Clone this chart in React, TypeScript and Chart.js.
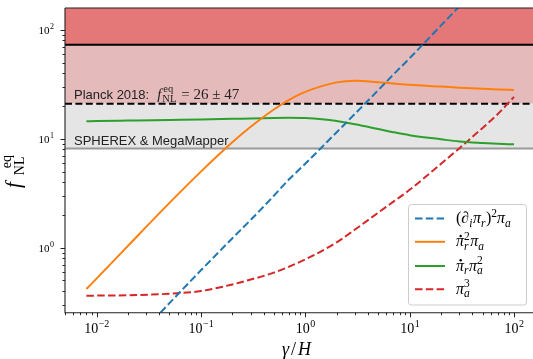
import React, { useEffect, useRef } from "react";
import { Chart, registerables } from "chart.js";

Chart.register(...registerables);

// ---- data ----
const gammaOverH = [0.008, 0.01, 0.02, 0.05, 0.1, 0.2, 0.3, 0.5, 0.7, 1, 2, 3, 5, 7, 10, 20, 30, 50, 70, 100];
const gradPiR2PiA = [0.048, 0.06, 0.122, 0.31, 0.62, 1.22, 1.8, 3.0, 4.25, 5.9, 11.5, 17, 28, 39, 55, 110, 165, 275, 385, 550];
const piRdot2PiA = [0.417, 0.52, 1.04, 2.58, 5.0, 9.3, 12.9, 18.6, 22.8, 27.0, 33.0, 34.2, 33.1, 32.2, 31.3, 30.2, 29.5, 28.8, 28.4, 28.1];
const piRdotPiA2 = [14.5, 14.55, 14.7, 14.9, 15.05, 15.25, 15.4, 15.55, 15.6, 15.5, 14.6, 13.6, 12.3, 11.5, 10.8, 9.9, 9.45, 9.15, 9.0, 8.9];
const piA3 = [0.362, 0.363, 0.366, 0.378, 0.4, 0.46, 0.51, 0.59, 0.67, 0.78, 1.12, 1.47, 2.1, 2.65, 3.4, 5.9, 8.2, 12.6, 16.9, 24.3];

// constraint levels
const planckUpper = 73;
const planckLower = 21;
const spherexLevel = 8.15;

// axis limits
const xMin = 0.004989;
const xMax = 160.3;
const yMin = 0.253;
const yMax = 159;

// tick labels
const xMajorTicks = [0.01, 0.1, 1, 10, 100];
const xTickExponents = ["\u22122", "\u22121", "0", "1", "2"];
const yMajorTicks = [1, 10, 100];
const yTickExponents = ["0", "1", "2"];

const SERIF = '"Liberation Serif", "DejaVu Serif", serif';
const SANS = '"Liberation Sans", "DejaVu Sans", sans-serif';

type Seg = {
  t: string;
  size: number;
  dy?: number;
  it?: boolean;
  sans?: boolean;
  dot?: boolean;
  dx?: number;
  hold?: boolean; // do not advance (next seg stacks at same x)
};

function drawRun(ctx: CanvasRenderingContext2D, segs: Seg[], x: number, y: number) {
  let cx = x;
  let held = 0;
  for (const s of segs) {
    ctx.font = `${s.it ? "italic " : ""}${s.size}px ${s.sans ? SANS : SERIF}`;
    cx += s.dx ?? 0;
    const yy = y + (s.dy ?? 0);
    ctx.fillText(s.t, cx, yy);
    const w = ctx.measureText(s.t).width;
    if (s.dot) {
      ctx.beginPath();
      ctx.arc(cx + w * 0.58, yy - s.size * 0.64, s.size * 0.075, 0, Math.PI * 2);
      ctx.fill();
    }
    if (s.hold) {
      held = Math.max(held, w);
    } else {
      cx += Math.max(w, held);
      held = 0;
    }
  }
  return cx;
}

const M = 16;
const S = 11.5;
const legendLabels: Seg[][] = [
  [
    { t: "(", size: M },
    { t: "\u2202", size: M, it: true },
    { t: "i", size: S, it: true, dy: 3.5 },
    { t: "\u03c0", size: M, it: true, dx: 0.5 },
    { t: "r", size: S, it: true, dy: 3.5 },
    { t: ")", size: M, dx: 0.5 },
    { t: "2", size: S, dy: -6.5 },
    { t: "\u03c0", size: M, it: true },
    { t: "a", size: S, it: true, dy: 3.5 },
  ],
  [
    { t: "\u03c0", size: M, it: true, dot: true },
    { t: "r", size: S, it: true, dy: 3.5, hold: true },
    { t: "2", size: S, dy: -6.5 },
    { t: "\u03c0", size: M, it: true, dx: 0.5 },
    { t: "a", size: S, it: true, dy: 3.5 },
  ],
  [
    { t: "\u03c0", size: M, it: true, dot: true },
    { t: "r", size: S, it: true, dy: 3.5 },
    { t: "\u03c0", size: M, it: true, dx: 0.5 },
    { t: "a", size: S, it: true, dy: 3.5, hold: true },
    { t: "2", size: S, dy: -6.5 },
  ],
  [
    { t: "\u03c0", size: M, it: true },
    { t: "a", size: S, it: true, dy: 3.5, hold: true },
    { t: "3", size: S, dy: -6.5 },
  ],
];

const decor = {
  id: "decor",
  beforeDatasetsDraw(chart: any) {
    const { ctx, chartArea: a, scales } = chart;
    const y = scales.y;
    const yU = y.getPixelForValue(planckUpper);
    const yL = y.getPixelForValue(planckLower);
    const yS = y.getPixelForValue(spherexLevel);
    ctx.save();
    ctx.fillStyle = "#e47878";
    ctx.fillRect(a.left, a.top, a.right - a.left, yU - a.top);
    ctx.fillStyle = "#e4baba";
    ctx.fillRect(a.left, yU, a.right - a.left, yL - yU);
    ctx.fillStyle = "#e5e5e5";
    ctx.fillRect(a.left, yL, a.right - a.left, yS - yL);

    ctx.lineWidth = 2;
    ctx.strokeStyle = "#000";
    ctx.beginPath();
    ctx.moveTo(a.left, yU);
    ctx.lineTo(a.right, yU);
    ctx.stroke();
    ctx.setLineDash([7, 3.4]);
    ctx.beginPath();
    ctx.moveTo(a.left, yL);
    ctx.lineTo(a.right, yL);
    ctx.stroke();
    ctx.setLineDash([]);
    ctx.strokeStyle = "#999999";
    ctx.beginPath();
    ctx.moveTo(a.left, yS);
    ctx.lineTo(a.right, yS);
    ctx.stroke();

    ctx.fillStyle = "#222";
    ctx.textBaseline = "alphabetic";
    ctx.textAlign = "left";
    ctx.font = `13px ${SANS}`;
    ctx.fillText("Planck 2018:", 74, 98.5);
    const w = ctx.measureText("Planck 2018:").width;
    drawRun(
      ctx,
      [
        { t: "f", size: 15, it: true },
        { t: "NL", size: 10.5, dy: 3.5, hold: true, dx: 1 },
        { t: "eq", size: 10.5, dy: -6.5, dx: 1 },
        { t: "= 26 \u00b1 47", size: 15, dx: 4 },
      ],
      74 + w + 8,
      98.5
    );
    ctx.font = `13px ${SANS}`;
    ctx.fillText("SPHEREX & MegaMapper", 74, 144.5);
    ctx.restore();
  },
  afterDatasetsDraw(chart: any) {
    const { ctx, chartArea: a, scales } = chart;
    const xs = scales.x;
    const ys = scales.y;
    ctx.save();
    // spines
    ctx.strokeStyle = "#222";
    ctx.lineWidth = 1.1;
    ctx.beginPath();
    ctx.moveTo(a.left, a.top);
    ctx.lineTo(a.right, a.top);
    ctx.moveTo(a.left, a.top);
    ctx.lineTo(a.left, a.bottom);
    ctx.lineTo(a.right, a.bottom);
    ctx.lineTo(a.right, a.top);
    ctx.stroke();

    // ticks
    ctx.lineWidth = 1;
    const eps = 1e-9;
    const xTicks: { v: number; major: boolean }[] = [];
    for (let e = Math.floor(Math.log10(xs.min)); e <= Math.ceil(Math.log10(xs.max)); e++) {
      for (let m = 1; m <= 9; m++) {
        const v = m * Math.pow(10, e);
        if (v >= xs.min * (1 - eps) && v <= xs.max * (1 + eps)) xTicks.push({ v, major: m === 1 });
      }
    }
    ctx.beginPath();
    for (const t of xTicks) {
      const px = Math.round(xs.getPixelForValue(t.v)) + 0.5;
      ctx.moveTo(px, a.bottom);
      ctx.lineTo(px, a.bottom + (t.major ? 4.5 : 2.5));
    }
    const yTicks: { v: number; major: boolean }[] = [];
    for (let e = Math.floor(Math.log10(ys.min)); e <= Math.ceil(Math.log10(ys.max)); e++) {
      for (let m = 1; m <= 9; m++) {
        const v = m * Math.pow(10, e);
        if (v >= ys.min * (1 - eps) && v <= ys.max * (1 + eps)) yTicks.push({ v, major: m === 1 });
      }
    }
    for (const t of yTicks) {
      const py = Math.round(ys.getPixelForValue(t.v)) + 0.5;
      ctx.moveTo(a.left, py);
      ctx.lineTo(a.left - (t.major ? 4.5 : 2.5), py);
    }
    ctx.stroke();

    // tick labels
    ctx.fillStyle = "#000";
    ctx.textBaseline = "alphabetic";
    ctx.textAlign = "left";
    xMajorTicks.forEach((v, i) => {
      const px = xs.getPixelForValue(v);
      ctx.font = `14px ${SERIF}`;
      const w1 = ctx.measureText("10").width;
      ctx.font = `10px ${SERIF}`;
      const w2 = ctx.measureText(xTickExponents[i]).width;
      const x0 = px - (w1 + w2) / 2;
      ctx.font = `14px ${SERIF}`;
      ctx.fillText("10", x0, 332.5);
      ctx.font = `10px ${SERIF}`;
      ctx.fillText(xTickExponents[i], x0 + w1 + 0.5, 326.5);
    });
    yMajorTicks.forEach((v, i) => {
      const py = ys.getPixelForValue(v);
      ctx.font = `8px ${SERIF}`;
      const w2 = ctx.measureText(yTickExponents[i]).width;
      ctx.font = `11px ${SERIF}`;
      const w1 = ctx.measureText("10").width;
      const xr = 54;
      ctx.fillText("10", xr - w2 - w1 - 0.5, py + 4);
      ctx.font = `8px ${SERIF}`;
      ctx.fillText(yTickExponents[i], xr - w2, py - 1);
    });

    // x axis title
    drawRun(
      ctx,
      [
        { t: "\u03b3", size: 18, it: true },
        { t: "/", size: 18, dx: 2 },
        { t: "H", size: 18, it: true, dx: 2 },
      ],
      282,
      355
    );

    // y axis title (rotated)
    ctx.save();
    ctx.translate(20, 188);
    ctx.rotate(-Math.PI / 2);
    drawRun(
      ctx,
      [
        { t: "f", size: 21, it: true },
        { t: "NL", size: 14, dy: 4, hold: true, dx: 7 },
        { t: "eq", size: 14, dy: -9, dx: 7 },
      ],
      0,
      0
    );
    ctx.restore();

    // legend
    const bx = 408.5, by = 204.5, bw = 118, bh = 100.5, r = 3;
    ctx.beginPath();
    ctx.moveTo(bx + r, by);
    ctx.lineTo(bx + bw - r, by);
    ctx.arcTo(bx + bw, by, bx + bw, by + r, r);
    ctx.lineTo(bx + bw, by + bh - r);
    ctx.arcTo(bx + bw, by + bh, bx + bw - r, by + bh, r);
    ctx.lineTo(bx + r, by + bh);
    ctx.arcTo(bx, by + bh, bx, by + bh - r, r);
    ctx.lineTo(bx, by + r);
    ctx.arcTo(bx, by, bx + r, by, r);
    ctx.closePath();
    ctx.fillStyle = "rgba(255,255,255,0.8)";
    ctx.fill();
    ctx.strokeStyle = "#cccccc";
    ctx.lineWidth = 1;
    ctx.stroke();

    const rows = [218.5, 241.8, 266, 289.3];
    chart.data.datasets.forEach((ds: any, i: number) => {
      const ry = rows[i];
      ctx.strokeStyle = ds.borderColor;
      ctx.lineWidth = ds.borderWidth;
      ctx.setLineDash(ds.borderDash || []);
      ctx.beginPath();
      ctx.moveTo(415, ry);
      ctx.lineTo(445, ry);
      ctx.stroke();
      ctx.setLineDash([]);
      ctx.fillStyle = "#000";
      drawRun(ctx, legendLabels[i], 456, ry + 4.5);
    });
    ctx.restore();
  },
};

export default function App() {
  const ref = useRef<HTMLCanvasElement>(null);
  useEffect(() => {
    const canvas = ref.current!;
    const mk = (ys: number[]) => gammaOverH.map((x, i) => ({ x, y: ys[i] }));
    const chart = new Chart(canvas, {
      type: "line",
      data: {
        datasets: [
          { label: "(∂iπr)²πa", data: mk(gradPiR2PiA), borderColor: "#1f77b4", borderWidth: 2, borderDash: [7.5, 3.3], cubicInterpolationMode: "monotone" },
          { label: "π̇r²πa", data: mk(piRdot2PiA), borderColor: "#ff7f0e", borderWidth: 2, cubicInterpolationMode: "monotone" },
          { label: "π̇rπa²", data: mk(piRdotPiA2), borderColor: "#2ca02c", borderWidth: 2, cubicInterpolationMode: "monotone" },
          { label: "πa³", data: mk(piA3), borderColor: "#d62728", borderWidth: 2, borderDash: [7.5, 3.3], cubicInterpolationMode: "monotone" },
        ] as any,
      },
      options: {
        responsive: false,
        animation: false,
        devicePixelRatio: 1,
        layout: { padding: { left: 0, top: 8, right: 9.6, bottom: 0 } },
        elements: { point: { radius: 0 } },
        plugins: { legend: { display: false }, tooltip: { enabled: false } },
        scales: {
          x: {
            type: "logarithmic",
            min: xMin,
            max: xMax,
            bounds: "data",
            ticks: { display: false },
            grid: { display: false },
            border: { display: false },
            afterFit: (s: any) => {
              s.height = 46.3;
            },
          },
          y: {
            type: "logarithmic",
            min: yMin,
            max: yMax,
            bounds: "data",
            ticks: { display: false },
            grid: { display: false },
            border: { display: false },
            afterFit: (s: any) => {
              s.width = 65;
            },
          },
        },
      } as any,
      plugins: [decor],
    });
    return () => chart.destroy();
  }, []);
  return (
    <div style={{ position: "absolute", left: 0, top: 0, width: 533, height: 359, overflow: "hidden", background: "#fff" }}>
      <canvas ref={ref} width={545} height={359} style={{ width: 545, height: 359, display: "block" }} />
    </div>
  );
}
